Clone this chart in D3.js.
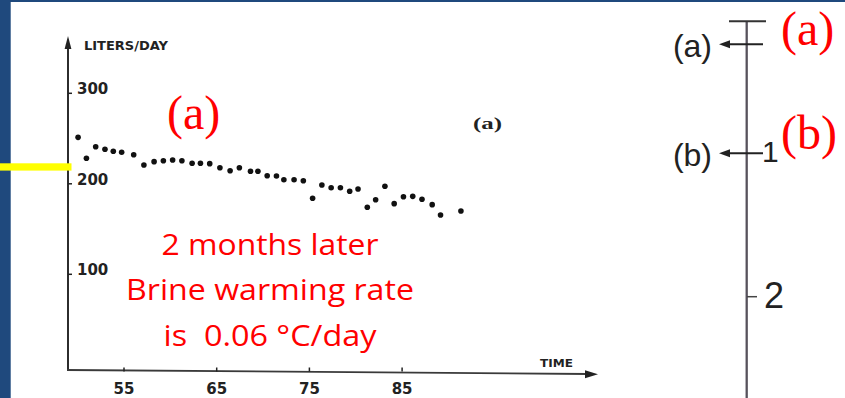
<!DOCTYPE html>
<html>
<head>
<meta charset="utf-8">
<script src="https://cdn.jsdelivr.net/npm/d3@7"></script>
<style>
  html, body { margin: 0; padding: 0; background: #fff; }
  svg { display: block; }
</style>
</head>
<body>
<div id="chart-area"></div>
<script>
// data
const days = [50.1, 51.0, 52.0, 53.0, 53.9, 54.8, 56.1, 57.2, 58.3, 59.3,
  60.3, 61.3, 62.4, 63.3, 64.3, 65.4, 66.5, 67.5, 68.7, 69.5,
  70.5, 71.5, 72.3, 73.4, 74.4, 75.4, 76.4, 77.4, 78.4, 79.4,
  80.3, 81.3, 82.2, 83.2, 84.2, 85.2, 86.2, 87.2, 88.3, 89.2, 91.4];
const liters = [250.8, 227.6, 240.4, 237.6, 235.4, 234.3, 231.6, 220.2, 223.9, 225.0,
  225.7, 225.0, 222.1, 222.1, 221.7, 217.2, 213.9, 217.2, 213.3, 213.3,
  208.4, 208.1, 204.0, 204.0, 202.9, 183.4, 198.1, 195.1, 195.1, 191.2,
  193.7, 173.5, 181.9, 196.7, 177.5, 185.2, 185.6, 182.3, 176.4, 165.0, 169.4];
const xTicks = [55, 65, 75, 85];
const yTicks = [100, 200, 300];
const noteLines = ['2 months later', 'Brine warming rate', 'is  0.06 °C/day'];
const noteWidths = [217, 288, 213];
// right hand scale
const scaleTop = 0.08;
const scaleMarks = ['(a)', '(b)'];
const scaleMarkValues = [0.24, 1];
const scaleNumbers = [1, 2];

const width = 845;
const height = 398;
const ink = '#222';

const svg = d3.select('#chart-area')
  .append('svg')
  .attr('width', width)
  .attr('height', height);

svg.append('rect')
  .attr('width', width)
  .attr('height', height)
  .attr('fill', '#fff');

// slide border
svg.append('rect')
  .attr('x', 0).attr('y', 0)
  .attr('width', 10.7).attr('height', height)
  .attr('fill', '#1f497d');
svg.append('rect')
  .attr('x', 0).attr('y', 0)
  .attr('width', width).attr('height', 2)
  .attr('fill', '#1f497d');

// X & Y Scales
const x = d3.scaleLinear()
  .domain([55, 85])
  .range([123.5, 401.6]);

const y = d3.scaleLinear()
  .domain([100, 300])
  .range([273.8, 92.8]);

const scanFont = '"Liberation Sans Narrow", "DejaVu Sans", sans-serif';

// axis lines with arrows
svg.append('path')
  .attr('d', 'M68,370 L68,46')
  .attr('stroke', ink)
  .attr('stroke-width', 1.9)
  .attr('fill', 'none');
svg.append('path')
  .attr('d', 'M68,36 L64.6,49 L71.4,49 Z')
  .attr('fill', ink);

svg.append('path')
  .attr('d', 'M67,370 L588,374')
  .attr('stroke', '#3a3a3a')
  .attr('stroke-width', 1.8)
  .attr('fill', 'none');
svg.append('path')
  .attr('d', 'M598,374.3 L585,370.3 L585,378.3 Z')
  .attr('fill', ink);

// Y ticks
const yAxisGroup = svg.append('g')
  .attr('transform', 'translate(68, 0)')
  .call(d3.axisRight(y).tickValues(yTicks).tickSize(4).tickPadding(5));
yAxisGroup.select('.domain').remove();
yAxisGroup.selectAll('line').attr('stroke', ink).attr('stroke-width', 1.5);
yAxisGroup.selectAll('text')
  .attr('dy', '0.05em')
  .attr('fill', ink)
  .attr('font-family', scanFont)
  .attr('font-weight', 'bold')
  .attr('font-size', '15px');

// X ticks
const xAxisGroup = svg.append('g')
  .attr('transform', 'translate(0, 371.5)')
  .call(d3.axisBottom(x).tickValues(xTicks).tickSize(-4).tickPadding(12));
xAxisGroup.select('.domain').remove();
xAxisGroup.selectAll('line').attr('stroke', ink).attr('stroke-width', 1.5);
xAxisGroup.selectAll('text')
  .attr('fill', ink)
  .attr('font-family', scanFont)
  .attr('font-weight', 'bold')
  .attr('font-size', '15px');

// axis labels of the scan
svg.append('text')
  .attr('x', 84).attr('y', 50)
  .attr('font-family', scanFont)
  .attr('font-weight', 'bold')
  .attr('font-size', '13px')
  .attr('textLength', 84)
  .attr('lengthAdjust', 'spacingAndGlyphs')
  .attr('fill', ink)
  .text('LITERS/DAY');

svg.append('text')
  .attr('x', 540).attr('y', 367)
  .attr('font-family', scanFont)
  .attr('font-weight', 'bold')
  .attr('font-size', '11px')
  .attr('textLength', 33)
  .attr('lengthAdjust', 'spacingAndGlyphs')
  .attr('fill', ink)
  .text('TIME');

svg.append('text')
  .attr('x', 473).attr('y', 129)
  .attr('font-family', '"Liberation Serif", serif')
  .attr('font-weight', 'bold')
  .attr('font-size', '16px')
  .attr('textLength', 29)
  .attr('lengthAdjust', 'spacingAndGlyphs')
  .attr('fill', ink)
  .text('(a)');

// dots
svg.append('g')
  .selectAll('circle')
  .data(days)
  .enter()
  .append('circle')
  .attr('cx', d => x(d))
  .attr('cy', (d, i) => y(liters[i]))
  .attr('r', 2.8)
  .attr('fill', '#111');

// yellow marker
svg.append('rect')
  .attr('x', 0).attr('y', 163.3)
  .attr('width', 71.5).attr('height', 7.3)
  .attr('fill', '#ffff00');

// red annotations
const redSerif = '"Liberation Serif", "Times New Roman", serif';
svg.append('text')
  .attr('x', 167).attr('y', 129)
  .attr('font-family', redSerif)
  .attr('font-size', '48px')
  .attr('fill', '#ff0000')
  .text('(a)');

svg.append('g')
  .selectAll('text')
  .data(noteLines)
  .enter()
  .append('text')
  .attr('x', 270)
  .attr('y', (d, i) => 255 + i * 45.3)
  .attr('text-anchor', 'middle')
  .attr('font-family', '"Open Sans", sans-serif')
  .attr('font-size', '29px')
  .attr('textLength', (d, i) => noteWidths[i])
  .attr('lengthAdjust', 'spacingAndGlyphs')
  .attr('fill', '#ff0000')
  .style('white-space', 'pre')
  .text(d => d);

// right hand scale
const r = d3.scaleLinear()
  .domain([1, 2])
  .range([153.3, 296.7]);

svg.append('line')
  .attr('x1', 746.7).attr('x2', 746.7)
  .attr('y1', r(scaleTop)).attr('y2', height)
  .attr('stroke', '#57525c')
  .attr('stroke-width', 2.3);

svg.append('line')
  .attr('x1', 729).attr('x2', 766)
  .attr('y1', r(scaleTop)).attr('y2', r(scaleTop))
  .attr('stroke', '#333')
  .attr('stroke-width', 2);

const marks = svg.append('g');
scaleMarks.forEach((label, i) => {
  const yy = r(scaleMarkValues[i]);
  marks.append('line')
    .attr('x1', 727).attr('x2', 763)
    .attr('y1', yy).attr('y2', yy)
    .attr('stroke', '#222')
    .attr('stroke-width', 2);
  marks.append('path')
    .attr('d', `M719,${yy} L730,${yy - 4} L730,${yy + 4} Z`)
    .attr('fill', '#222');
  marks.append('text')
    .attr('x', 712).attr('y', yy + 13)
    .attr('text-anchor', 'end')
    .attr('font-family', '"Liberation Sans", Arial, sans-serif')
    .attr('font-size', '32px')
    .attr('fill', '#222')
    .text(label);
});

scaleNumbers.forEach(n => {
  const yy = r(n);
  if (n > 1) {
    svg.append('line')
      .attr('x1', 747).attr('x2', 757)
      .attr('y1', yy).attr('y2', yy)
      .attr('stroke', '#444')
      .attr('stroke-width', 1.5);
  }
  svg.append('text')
    .attr('x', n > 1 ? 764 : 762)
    .attr('y', yy + (n > 1 ? 11.5 : 9))
    .attr('font-family', '"Liberation Sans", Arial, sans-serif')
    .attr('font-size', n > 1 ? '36px' : '30px')
    .attr('fill', '#222')
    .text(n);
});

svg.append('text')
  .attr('x', 781).attr('y', 44.5)
  .attr('font-family', redSerif)
  .attr('font-size', '48px')
  .attr('fill', '#ff0000')
  .text('(a)');

svg.append('text')
  .attr('x', 781).attr('y', 148.5)
  .attr('font-family', redSerif)
  .attr('font-size', '48px')
  .attr('fill', '#ff0000')
  .text('(b)');
</script>
</body>
</html>
